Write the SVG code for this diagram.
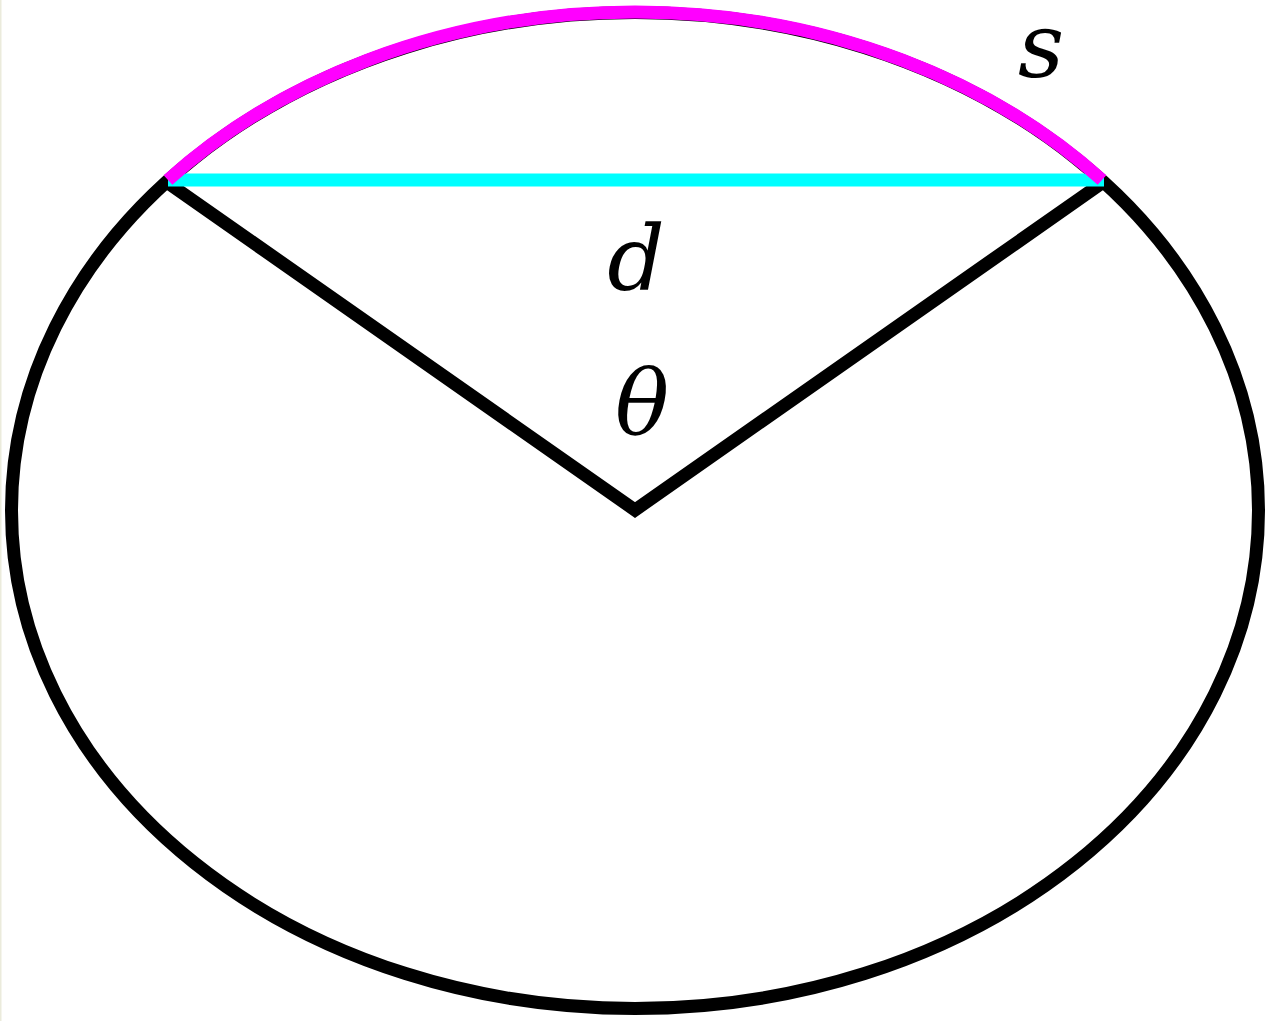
<svg xmlns="http://www.w3.org/2000/svg" width="1278" height="1021" viewBox="0 0 1278 1021">
<style>
.stk{fill:none;stroke-width:13;stroke-linecap:butt}
.lbl{font-family:"DejaVu Serif","Liberation Serif",serif;font-style:italic;font-size:90px;fill:#000;text-anchor:middle}
</style>
<rect x="0" y="0" width="1278" height="1021" fill="#fff"/>
<rect x="0" y="0" width="1.5" height="1021" fill="#ebebdc"/>
<g id="ellipse">
<ellipse cx="635" cy="510.5" rx="623.5" ry="498" class="stk" stroke="#000"/>
</g>
<g id="connectors">
<polyline points="168,183 635,510 1102,183" class="stk" stroke="#000" stroke-linejoin="miter"/>
<line x1="168" y1="180" x2="1104" y2="180" class="stk" stroke="#00ffff"/>
<path d="M168,180 A623.5,498 0 0 1 1102,180" class="stk" stroke="#ff00ff"/>
</g>
<g id="label-s"><text x="1041" y="77" class="lbl">s</text></g>
<g id="label-d"><text x="636" y="290" class="lbl">d</text></g>
<g id="label-theta"><text x="642" y="433" class="lbl">θ</text></g>
</svg>
